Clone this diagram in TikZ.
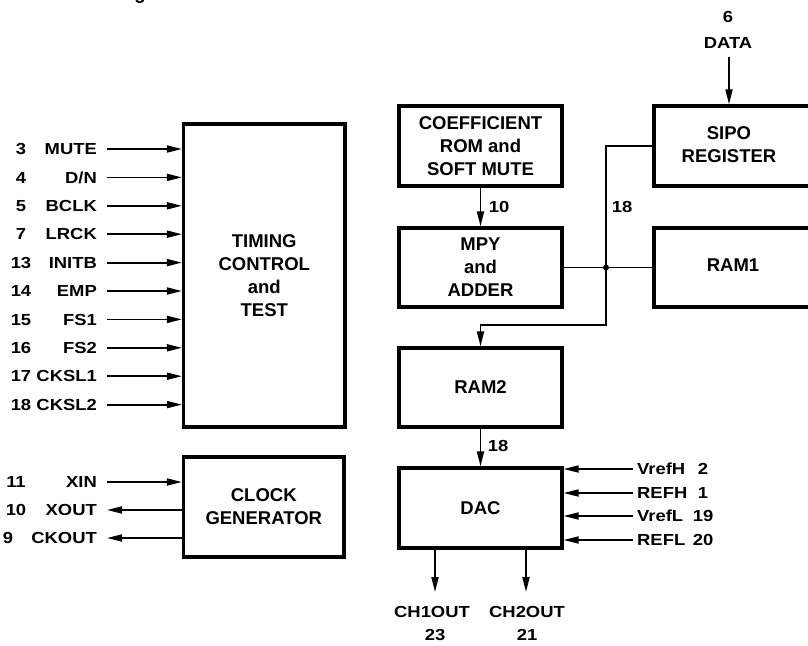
\documentclass[tikz,border=0pt]{standalone}
\usepackage{fontspec}
\setmainfont{Liberation Sans}
\newfontfamily\boxfont{Liberation Sans}
\newfontfamily\pinfont{Liberation Sans}[FakeStretch=1.15]
\usetikzlibrary{arrows.meta}
\begin{document}
\begin{tikzpicture}[x=1pt,y=-1pt,
  blk/.style={draw, line width=3.2pt, inner sep=0pt, align=center,
    font=\boxfont\bfseries\fontsize{18.5}{23}\selectfont},
  boxtxt/.style={inner sep=0pt, align=center,
    font=\boxfont\bfseries\fontsize{18.5}{23}\selectfont},
  pin/.style={inner sep=0pt, text height=11.5pt, text depth=0pt,
    font=\pinfont\bfseries\fontsize{16}{18}\selectfont},
  conn/.style={line width=1.8pt},
  arr/.style={conn, -{Triangle[length=15pt,width=7pt]}}]
\useasboundingbox (0,0) rectangle (808,645);
\fill[white] (0,0) rectangle (808,645);
\clip (0,0) rectangle (808,645);

% cropped caption fragment
\node[boxtxt, anchor=base] (capg) at (140,-0.5) {g};

% blocks
\node[blk, minimum width=161.5pt, minimum height=303pt] (timing) at (264.25,275.5)
  {TIMING\\CONTROL\\and\\TEST};
\node[blk, minimum width=160.5pt, minimum height=100pt] (clock) at (263.75,507)
  {CLOCK\\GENERATOR};
\node[blk, minimum width=163pt, minimum height=80pt] (coef) at (480.5,146)
  {COEFFICIENT\\ROM and\\SOFT MUTE};
\node[blk, minimum width=163pt, minimum height=79pt] (mpy) at (480.5,267.5)
  {MPY\\and\\ADDER};
\node[blk, minimum width=163pt, minimum height=79pt] (ram2) at (480.5,387.5) {RAM2};
\node[blk, minimum width=163pt, minimum height=80pt] (dac) at (480.5,508) {DAC};
\node[blk, minimum width=186pt, minimum height=80pt] (sipo) at (747,146) {};
\node[boxtxt] (sipotxt) at (729,145) {SIPO\\REGISTER};
\node[blk, minimum width=186pt, minimum height=79pt] (ram1) at (747,267.5) {};
\node[boxtxt] (ram1txt) at (733,265) {RAM1};

% left pins of timing block
\foreach \n/\lab/\k [count=\i from 0] in {3/MUTE/0, 4/{D/N}/0, 5/BCLK/0, 7/LRCK/0,
    13/INITB/0, 14/EMP/0, 15/FS1/0, 16/FS2/0, 17/CKSL1/0, 18/CKSL2/0}{
  \node[pin, anchor=east] (pl\i) at (97,149+28.4*\i) {\lab};
  \node[pin] (pn\i) at (21+\k,149+28.4*\i) {\n};
  \draw[arr] ([xshift=10pt]pl\i.east) -- (pl\i.east -| timing.west);
}

% clock generator pins
\node[pin, anchor=east] (xin) at (97,482) {XIN};
\node[pin] (nxin) at (16,482) {11};
\node[pin, anchor=east] (xout) at (97,510) {XOUT};
\node[pin] (nxout) at (16,510) {10};
\node[pin, anchor=east] (ckout) at (97,538) {CKOUT};
\node[pin] (nckout) at (8,538) {9};
\draw[arr] ([xshift=10pt]xin.east) -- (xin.east -| clock.west);
\draw[arr] (xout.east -| clock.west) -- ([xshift=10pt]xout.east);
\draw[arr] (ckout.east -| clock.west) -- ([xshift=10pt]ckout.east);

% data input
\node[pin] (n6) at (728,17) {6};
\node[pin] (data) at (728,43) {DATA};
\coordinate (datatop) at (729,57);
\draw[arr] (datatop) -- (datatop |- sipo.north);

% internal connections
\draw[arr] (coef.south) -- (mpy.north);
\node[pin] (l10) at (499,207) {10};
\coordinate (jn) at (606,267.5);
\coordinate (bend) at (606,325);
\draw[conn] (mpy.east) -- (ram1.west);
\draw[arr] (sipo.west) -| (bend) -| (ram2.north);
\fill (jn) circle (3pt);
\node[pin] (l18a) at (622,207) {18};
\draw[arr] (ram2.south) -- (dac.north);
\node[pin] (l18b) at (498,446) {18};

% DAC reference pins
\foreach \lab/\n/\y [count=\i] in {VrefH/2/469, REFH/1/493, VrefL/19/516, REFL/20/540}{
  \node[pin, anchor=west] (rl\i) at (637,\y) {\lab};
  \node[pin] (rn\i) at (703,\y) {\n};
  \draw[arr] ([xshift=-4pt]rl\i.west) -- (rl\i.west -| dac.east);
}

% DAC outputs
\coordinate (o1) at (435,592);
\coordinate (o2) at (526,592);
\draw[arr] (dac.south -| o1) -- (o1);
\draw[arr] (dac.south -| o2) -- (o2);
\node[pin] (ch1) at (432,612) {CH1OUT};
\node[pin] (n23) at (435,635) {23};
\node[pin] (ch2) at (527,612) {CH2OUT};
\node[pin] (n21) at (527,635) {21};
\end{tikzpicture}
\end{document}
